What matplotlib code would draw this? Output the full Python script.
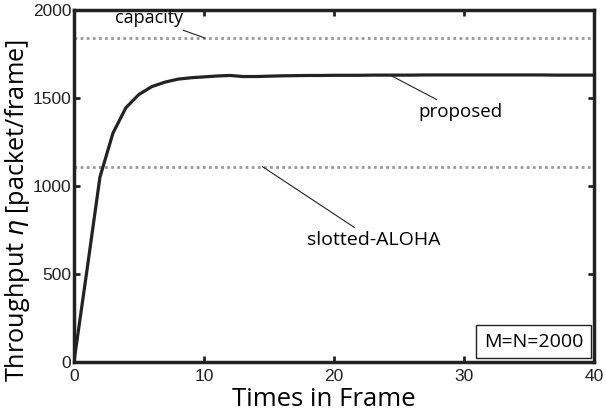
import numpy as np
import matplotlib
matplotlib.use("Agg")
import matplotlib.pyplot as plt

# throughput of proposed scheme vs frame index
frames = np.arange(0, 41)
proposed = [0, 520, 1050, 1300, 1445, 1520, 1565, 1590, 1607, 1615, 1620,
            1625, 1628, 1622, 1622, 1624, 1626, 1627, 1628, 1628, 1629,
            1629, 1629, 1630, 1630, 1630, 1630, 1631, 1631, 1631, 1631,
            1631, 1631, 1631, 1631, 1631, 1631, 1630, 1630, 1630, 1630]
capacity = 1840
aloha = 1110

fig = plt.figure(figsize=(6.06, 4.17), dpi=100)
ax = fig.add_axes([0.122, 0.132, 0.858, 0.844])

ax.axhline(capacity, color="#999999", ls=(0, (1, 1.2)), lw=2)
ax.axhline(aloha, color="#999999", ls=(0, (1, 1.2)), lw=2)
ax.plot(frames, proposed, color="#222222", lw=2.3)

ax.set_xlim(0, 40)
ax.set_ylim(0, 2000)
ax.set_xticks([0, 10, 20, 30, 40])
ax.set_yticks([0, 500, 1000, 1500, 2000])
for s in ax.spines.values():
    s.set_linewidth(2.5)
    s.set_color("#222222")
ax.tick_params(direction="in", top=True, right=True, length=4, width=2,
               labelsize=12.5, colors="#222222")
ax.tick_params(axis="x", pad=5)
ax.tick_params(axis="y", pad=2)
for lab in ax.get_xticklabels() + ax.get_yticklabels():
    lab.set_fontfamily("Liberation Sans")

tf = "Open Sans"
ax.set_xlabel("Times in Frame", fontsize=18.5, family=tf)
ax.xaxis.set_label_coords(0.48, -0.072)
ax.set_ylabel("Throughput $\\mathit{\\eta}$ [packet/frame]", fontsize=18.2,
              family=tf)
ax.yaxis.set_label_coords(-0.08, 0.43)

line = dict(arrowstyle="-", lw=0.8, color="#222222", shrinkA=1, shrinkB=0)
ax.annotate("capacity", xy=(10.1, capacity), xytext=(8.4, 1955),
            fontsize=13, family=tf, ha="right", va="center",
            arrowprops=line)
ax.annotate("proposed", xy=(24.3, 1631), xytext=(26.5, 1420),
            fontsize=13.5, family=tf, ha="left", va="center",
            arrowprops=line)
ax.annotate("slotted-ALOHA", xy=(14.5, aloha), xytext=(17.9, 693),
            fontsize=14, family=tf, ha="left", va="center",
            arrowprops=line)
ax.text(39.2, 115, "M=N=2000", fontsize=14, family=tf, ha="right",
        va="center",
        bbox=dict(boxstyle="square,pad=0.4", fc="white", ec="#222222",
                  lw=1))

fig.savefig("out.png", dpi=100)
